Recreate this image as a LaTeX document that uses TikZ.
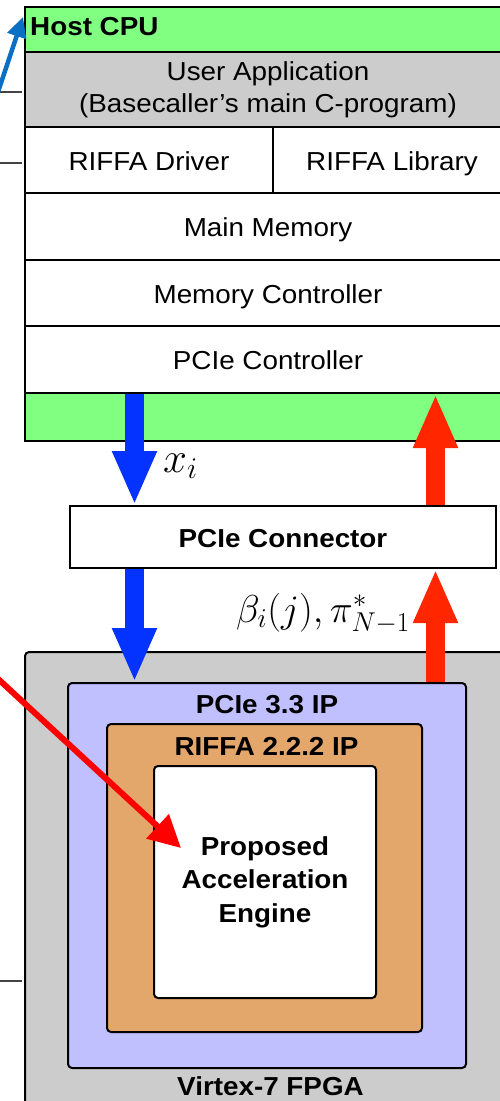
\RequirePackage{fix-cm}
\documentclass[tikz,border=0pt]{standalone}
\usepackage{fontspec}
\setmainfont{Liberation Sans}[FakeStretch=1.07]
\usetikzlibrary{arrows.meta}
\definecolor{hostgreen}{HTML}{80FF80}
\definecolor{appgray}{HTML}{CCCCCC}
\definecolor{ipblue}{HTML}{C0C0FF}
\definecolor{riffaorange}{HTML}{E3A66B}
\definecolor{fatblue}{HTML}{0433FF}
\definecolor{fatred}{HTML}{FF2600}
\definecolor{thinblue}{HTML}{0A70C4}
\definecolor{thinred}{HTML}{FF0000}
\definecolor{stubgray}{HTML}{444444}
\begin{document}
\begin{tikzpicture}[x=1pt,y=-1pt,
  txt/.style={font=\fontsize{26}{32}\selectfont},
  btxt/.style={font=\bfseries\fontsize{26}{33.5}\selectfont},
  layer/.style={draw, line width=2pt, rectangle, inner sep=0pt, txt},
  row/.style={layer, fill=white, text height=20pt, text depth=0pt},
  frame/.style={layer, rounded corners=4pt},
  lbl/.style={btxt, inner sep=0pt, anchor=base},
  mlbl/.style={font=\fontsize{29}{34}\selectfont, inner sep=0pt},
  fat/.style={line width=19pt, -{Triangle[width=41pt,length=54pt]}},
  stub/.style={draw=stubgray, line width=2pt}]
\useasboundingbox (0,0) rectangle (500,1101);
\clip (0,0) rectangle (500,1101);

% Host CPU
\node[layer, fill=hostgreen, minimum width=486pt, minimum height=434pt] (host) at (268,224) {};
\node[btxt, inner sep=0pt, anchor=base west] (hostlbl) at (30,35) {Host CPU};
\node[layer, fill=appgray, minimum width=486pt, minimum height=75pt, align=center] (app) at (268,89.5) {User Application\\(Basecaller's main C-program)};
\node[row, minimum width=248pt, minimum height=66pt] (drv) at (149,160) {RIFFA Driver};
\node[row, minimum width=238pt, minimum height=66pt] (lib) at (392,160) {RIFFA Library};
\node[row, minimum width=486pt, minimum height=67pt] (mem) at (268,226.5) {Main Memory};
\node[row, minimum width=486pt, minimum height=66pt] (memctl) at (268,293) {Memory Controller};
\node[row, minimum width=486pt, minimum height=67pt] (pcictl) at (268,359.5) {PCIe Controller};

% PCIe connector
\node[row, btxt, text height=21pt, minimum width=426pt, minimum height=62pt] (conn) at (283,537) {PCIe Connector};

% FPGA
\node[frame, fill=appgray, minimum width=495pt, minimum height=468pt] (fpga) at (272.5,886) {};
\node[frame, fill=ipblue, minimum width=398pt, minimum height=385pt] (pcieip) at (267,875.5) {};
\node[frame, fill=riffaorange, minimum width=315pt, minimum height=308pt] (riffa) at (264.5,878) {};
\node[frame, btxt, fill=white, minimum width=222pt, minimum height=232pt, align=center] (engine) at (265,882) {Proposed\\Acceleration\\Engine};
\node[lbl] (pcielbl) at (267,713) {PCIe 3.3 IP};
\node[lbl] (riffalbl) at (266.5,755) {RIFFA 2.2.2 IP};
\node[lbl] (fpgalbl) at (270.5,1095) {Virtex-7 FPGA};

% math labels
\node[mlbl, anchor=base west] (xlbl) at (163,472) {\scalebox{1.48}{$x_i$}};
\node[mlbl, anchor=base west] (blbl) at (236,622) {\scalebox{1.34}{$\beta_i(j), \pi^*_{N-1}$}};

% fat arrows
\coordinate (bx) at (134.5,0);
\coordinate (rx) at (435.5,0);
\draw[fat, fatblue] (pcictl.south -| bx) -- (conn.north -| bx);
\draw[fat, fatblue] (conn.south -| bx) -- (pcieip.north -| bx);
\draw[fat, fatred] (conn.north -| rx) -- (pcictl.south -| rx);
\draw[fat, fatred] (pcieip.north -| rx) -- (conn.south -| rx);

% left stubs
\coordinate (s1a) at (-2,92);  \coordinate (s1b) at (22,92);
\coordinate (s2a) at (-2,163); \coordinate (s2b) at (22,163);
\coordinate (s3a) at (-2,981); \coordinate (s3b) at (22,981);
\draw[stub] (s1a) -- (s1b);
\draw[stub] (s2a) -- (s2b);
\draw[stub] (s3a) -- (s3b);

% thin arrows
\coordinate (bluetail) at (-4,98);
\coordinate (bluetip) at (23,17);
\draw[thinblue, line width=4.5pt, -{Triangle[width=19pt,length=20pt]}] (bluetail) -- (bluetip);
\coordinate (redtail) at (-4,677);
\coordinate (redtip) at (181,848);
\draw[thinred, line width=6pt, -{Triangle[width=32pt,length=32pt]}] (redtail) -- (redtip);
\end{tikzpicture}
\end{document}
